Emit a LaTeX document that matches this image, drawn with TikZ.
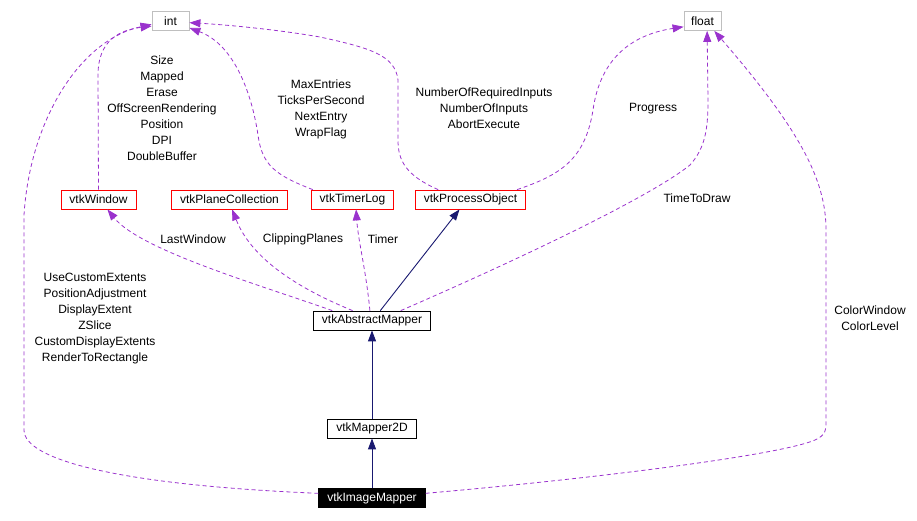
\documentclass[tikz,border=0pt]{standalone}
\usepackage{fontspec}
\setmainfont{Liberation Sans}
\usetikzlibrary{arrows.meta}
\definecolor{usecol}{RGB}{154,50,205}
\definecolor{inhcol}{RGB}{25,25,112}
\definecolor{typegray}{RGB}{191,191,191}

\begin{document}
\begin{tikzpicture}[x=1pt, y=-1pt,
    font=\fontsize{12}{16}\selectfont,
    cls/.style={draw, line width=0.8pt, inner xsep=8.5pt, inner ysep=0pt, minimum height=19pt},
    typebox/.style={cls, draw=typegray, minimum width=37pt, inner xsep=4pt},
    docbox/.style={cls, draw=red},
    plainbox/.style={cls, draw=black},
    selfbox/.style={cls, fill=black, text=white},
    lab/.style={align=center, inner sep=0pt},
    uses/.style={draw=usecol, line width=0.8pt, dash pattern=on 4pt off 3pt,
        -{Triangle[length=11pt,width=8pt,fill=usecol]}},
    inherits/.style={draw=inhcol, line width=0.9pt,
        -{Triangle[length=11pt,width=8pt,fill=inhcol]}}]
    \useasboundingbox (0,0) rectangle (917,520);

    % Define classes
    \node[typebox] (int) at (170.5,21) {int};
    \node[typebox] (float) at (702.5,21) {float};
    \node[docbox] (win) at (98.5,199.5) {vtkWindow};
    \node[docbox] (plane) at (229.5,199.5) {vtkPlaneCollection};
    \node[docbox] (timer) at (352.5,199.5) {vtkTimerLog};
    \node[docbox] (proc) at (470.5,199.5) {vtkProcessObject};
    \node[plainbox] (abs) at (372,320.5) {vtkAbstractMapper};
    \node[plainbox] (m2d) at (372,428.5) {vtkMapper2D};
    \node[selfbox] (img) at (372,498) {vtkImageMapper};

    % Inheritance
    \draw[inherits] (img.north) -- (m2d.south);
    \draw[inherits] (m2d.north) -- (abs.south);
    \draw[inherits] (abs.50) -- (proc.-138);

    % Members of type int
    \draw[uses] (win.north) -- (98,75) .. controls (98,40) and (120,30) .. (int.195);
    \draw[uses] (img.175) .. controls (120,485) and (24,460) .. (24,430)
        -- (24,215) .. controls (30,120) and (80,40) .. (int.190);
    \draw[uses] (timer.166) .. controls (275,175) and (262,165) .. (258,135)
        .. controls (252,95) and (235,45) .. (int.340);
    \draw[uses] (proc.163) .. controls (405,175) and (398,160) .. (398,140)
        -- (398,80) .. controls (395,55) and (370,48) .. (320,37)
        .. controls (280,30) and (230,25) .. (int.355);

    % Members of type float
    \draw[uses] (proc.12) .. controls (560,175) and (585,160) .. (593,110)
        .. controls (600,60) and (630,35) .. (float.197);
    \draw[uses] (abs.19) .. controls (460,285) and (640,205) .. (690,165)
        .. controls (705,148) and (708,130) .. (708,100) -- (float.-65);
    \draw[uses] (img.5) .. controls (600,478) and (780,455) .. (815,440)
        .. controls (826,435) and (826,430) .. (826,420)
        -- (826,230) .. controls (826,180) and (800,130) .. (float.-40);

    % Members of class type
    \draw[uses] (abs.166) .. controls (260,285) and (140,250) .. (win.-48);
    \draw[uses] (abs.153) .. controls (290,285) and (250,255) .. (plane.-75);
    \draw[uses] (abs.102) .. controls (366,270) and (358,240) .. (timer.-70);

    % Label edges
    \node[lab] (intwin) at (162,108.5) {Size\\Mapped\\Erase\\OffScreenRendering\\Position\\DPI\\DoubleBuffer};
    \node[lab] (inttimer) at (321,109) {MaxEntries\\TicksPerSecond\\NextEntry\\WrapFlag};
    \node[lab] (intproc) at (484,108.5) {NumberOfRequiredInputs\\NumberOfInputs\\AbortExecute};
    \node[lab] (floatproc) at (653,109) {Progress};
    \node[lab] (floatabs) at (697,198) {TimeToDraw};
    \node[lab] (lastwin) at (193,239) {LastWindow};
    \node[lab] (clip) at (303,239) {ClippingPlanes};
    \node[lab] (timerlab) at (383,239) {Timer};
    \node[lab] (intimg) at (95,319) {UseCustomExtents\\PositionAdjustment\\DisplayExtent\\ZSlice\\CustomDisplayExtents\\RenderToRectangle};
    \node[lab] (floatimg) at (870,318) {ColorWindow\\ColorLevel};
\end{tikzpicture}
\end{document}
